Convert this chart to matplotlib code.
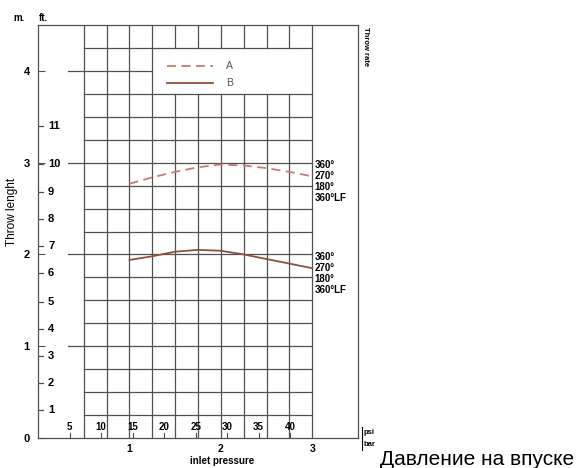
import matplotlib.pyplot as plt

plt.rcParams['font.family'] = ['Liberation Sans Narrow', 'Liberation Sans', 'DejaVu Sans']

W, H = 587, 468

# throw length (m) against inlet pressure (bar)
pressure_bar = [1.0, 1.25, 1.5, 1.75, 2.0, 2.25, 2.5, 2.75, 3.0]
throw_a = [2.77, 2.84, 2.90, 2.95, 2.98, 2.97, 2.94, 2.90, 2.85]
throw_b = [1.94, 1.98, 2.03, 2.05, 2.04, 2.00, 1.95, 1.90, 1.85]
angle_labels = ['360°', '270°', '180°', '360°LF']

m_ticks = [0, 1, 2, 3, 4]
ft_labels = ['1', '2', '3', '4', '5', '6', '7', '8', '9', '10', '11']
ft_ticks_m = [0.305, 0.60, 0.89, 1.19, 1.48, 1.80, 2.09, 2.39, 2.68, 2.99, 3.40]
bar_ticks = [1, 2, 3]
psi_ticks = [5, 10, 15, 20, 25, 30, 35, 40]
PSI_PER_BAR = 14.5038

GRID = '#505050'


def px(x, y):
    return x / W, 1 - y / H


fig = plt.figure(figsize=(W / 100, H / 100), dpi=100)
ax = fig.add_axes([38 / W, 30 / H, 320 / W, 413 / H])
ax.set_xlim(0, 3.5)
ax.set_ylim(0, 4.5)

for s in ax.spines.values():
    s.set_color(GRID)
    s.set_linewidth(0.9)

# grid, with a gap left open for the legend
leg_x0, leg_y0, leg_y1 = 1.25, 3.75, 4.25
for i in range(11):
    x = 0.5 + 0.25 * i
    if leg_x0 < x < 3.0:
        ax.plot([x, x], [0, leg_y0], color=GRID, lw=0.9)
        ax.plot([x, x], [leg_y1, 4.5], color=GRID, lw=0.9)
    else:
        ax.plot([x, x], [0, 4.5], color=GRID, lw=0.9)
for j in range(1, 18):
    y = 0.25 * j
    x0 = 0.33 if y in (1, 2, 3, 4) else 0.5
    x1 = leg_x0 if leg_y0 < y < leg_y1 else 3.0
    ax.plot([x0, x1], [y, y], color=GRID, lw=0.9)

# curves
ax.plot(pressure_bar, throw_a, color='#c47d72', lw=1.3, dashes=(5, 3))
ax.plot(pressure_bar, throw_b, color='#8f4f3a', lw=1.3)

for series in (throw_a, throw_b):
    for k, lab in enumerate(angle_labels):
        ax.annotate(lab, (pressure_bar[-1], series[-1]), xytext=(2, 11 - 11 * k),
                    textcoords='offset pixels', fontsize=7, fontweight='bold',
                    va='center', ha='left', annotation_clip=False)

# legend
ax.plot([1.41, 1.91], [4.05, 4.05], color='#c47d72', lw=1.3, dashes=(5, 3))
ax.plot([1.41, 1.91], [3.87, 3.87], color='#8f4f3a', lw=1.3)
ax.text(2.06, 4.05, 'A', fontsize=7.5, color='#555555', va='center')
ax.text(2.06, 3.87, 'B', fontsize=7.5, color='#555555', va='center')

# metre axis
ax.set_yticks(m_ticks)
ax.set_yticklabels([str(v) for v in m_ticks], fontsize=8, fontweight='bold')
ax.tick_params(axis='y', direction='in', length=5, pad=6, color=GRID)

# feet scale drawn inside the frame
for lab, ym in zip(ft_labels, ft_ticks_m):
    ax.plot([0, 0.05], [ym, ym], color=GRID, lw=0.9)
    ax.text(0.11, ym, lab, fontsize=8, fontweight='bold', va='center', ha='left')

# bar axis and psi strip
ax.set_xticks(bar_ticks)
ax.set_xticklabels([str(v) for v in bar_ticks], fontsize=7.5, fontweight='bold')
ax.tick_params(axis='x', length=0, pad=4)
for p in psi_ticks:
    xb = p / PSI_PER_BAR
    ax.plot([xb, xb], [0, 0.05], color=GRID, lw=0.8)
    ax.text(xb, 0.12, str(p), fontsize=7, fontweight='bold', ha='center', va='center')

# captions
fig.text(*px(13, 18), 'm.', fontsize=7, fontweight='bold', va='center')
fig.text(*px(39, 18), 'ft.', fontsize=7, fontweight='bold', va='center')
fig.text(*px(12, 212), 'Throw lenght', fontsize=8.5, rotation=90, va='center', ha='center')
fig.text(*px(365, 27), 'Throw rate', fontsize=5.5, fontweight='bold', rotation=-90,
         va='top', ha='center')
fig.text(*px(364, 432), 'psi', fontsize=5.5, fontweight='bold', va='center')
fig.text(*px(364, 445), 'bar', fontsize=5.5, fontweight='bold', va='center')
fig.add_artist(plt.Line2D([362 / W, 362 / W], [1 - 427 / H, 1 - 450 / H], color='black', lw=0.8))
fig.text(*px(222, 461), 'inlet pressure', fontsize=7, fontweight='bold', va='center', ha='center')
fig.text(*px(380, 465), 'Давление на впуске', fontsize=15,
         family=['Liberation Sans', 'DejaVu Sans'], va='baseline', ha='left')

fig.savefig('out.png', dpi=100)
